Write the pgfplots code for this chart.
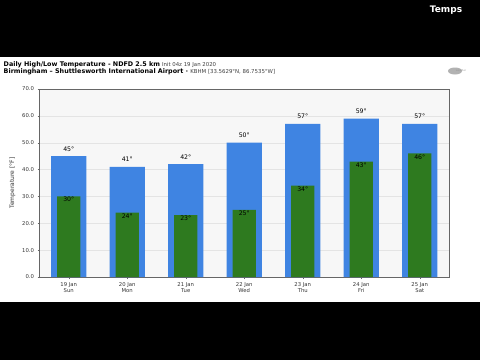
\documentclass[border=0pt]{standalone}
\usepackage{pgfplots}
\pgfplotsset{compat=1.18}
\usepackage{fontspec}
\setmainfont{DejaVu Sans}
\definecolor{hiblue}{HTML}{3F84E2}
\definecolor{logreen}{HTML}{2E7A1F}
\definecolor{axbg}{HTML}{F7F7F7}
\definecolor{gridc}{HTML}{E4E4E4}
\pgfplotstableread{
x hi lo
0 45 30
1 41 24
2 42 23
3 50 25
4 57 34
5 59 43
6 57 46
}\temps
\begin{document}
\begin{tikzpicture}[x=1pt,y=1pt]
\fill[black] (0,0) rectangle (480,360);
\fill[white] (0,58) rectangle (480,303);
\node[white,font=\bfseries\fontsize{9}{10}\selectfont] at (446,350) {Temps};
\node[anchor=west,inner sep=0pt,font=\fontsize{6.4}{7}\selectfont] at (3.5,295.5) {\textbf{Daily High/Low Temperature - NDFD 2.5 km} {\fontsize{5.4}{6}\selectfont\color{black!75}Init 04z 19 Jan 2020}};
\node[anchor=west,inner sep=0pt,font=\fontsize{6.4}{7}\selectfont] at (3.5,288.5) {\textbf{Birmingham -- Shuttlesworth International Airport} {\fontsize{5.4}{6}\selectfont\color{black!75}• KBHM [33.5629°N, 86.7535°W]}};
\fill[gray!60] (455,289) ellipse (7 and 3.5);
\node[gray!80,font=\fontsize{2.5}{3}\selectfont] at (461,289) {weather};
\begin{axis}[
  at={(39.5pt,83pt)}, anchor=south west,
  width=409.5pt, height=188pt, scale only axis,
  xmin=-0.5, xmax=6.5, ymin=0, ymax=70,
  axis background/.style={fill=axbg},
  axis line style={draw=black!60, line width=0.5pt},
  ytick={0,10,...,70},
  yticklabel style={/pgf/number format/fixed, /pgf/number format/fixed zerofill, /pgf/number format/precision=1},
  /pgf/number format/assume math mode=true,
  xtick={0,...,6},
  xticklabels={{19 Jan\\Sun},{20 Jan\\Mon},{21 Jan\\Tue},{22 Jan\\Wed},{23 Jan\\Thu},{24 Jan\\Fri},{25 Jan\\Sat}},
  xticklabel style={align=center, font=\fontsize{5.3}{6.2}\selectfont, text=black!80},
  yticklabel style={font=\fontsize{5.3}{6}\selectfont, text=black!80},
  tick align=outside, major tick length=2pt,
  tick style={black!60, line width=0.4pt},
  xtick pos=bottom, ytick pos=left,
  ymajorgrids, grid style={gridc, line width=0.4pt},
  ylabel={Temperature [°F]},
  every axis y label/.style={at={(ticklabel cs:0.5)}, rotate=90, anchor=south, font=\fontsize{6}{7}\selectfont, text=black!80},
]
\addplot[ybar, bar width=0.6, bar shift=0pt, fill=hiblue, draw=none,
  nodes near coords={\pgfmathprintnumber{\pgfplotspointmeta}°},
  point meta=explicit,
  every node near coord/.append style={font=\fontsize{6.2}{7}\selectfont, text=black, anchor=south, yshift=1.5pt}]
  table[x=x, y=hi, meta=hi] {\temps};
\addplot[ybar, bar width=0.4, bar shift=0pt, fill=logreen, draw=none,
  nodes near coords={\pgfmathprintnumber{\pgfplotspointmeta}°},
  point meta=explicit,
  every node near coord/.append style={font=\fontsize{6.2}{7}\selectfont, text=black, anchor=center, yshift=-3.3pt}]
  table[x=x, y=lo, meta=lo] {\temps};
\end{axis}
\end{tikzpicture}
\end{document}
